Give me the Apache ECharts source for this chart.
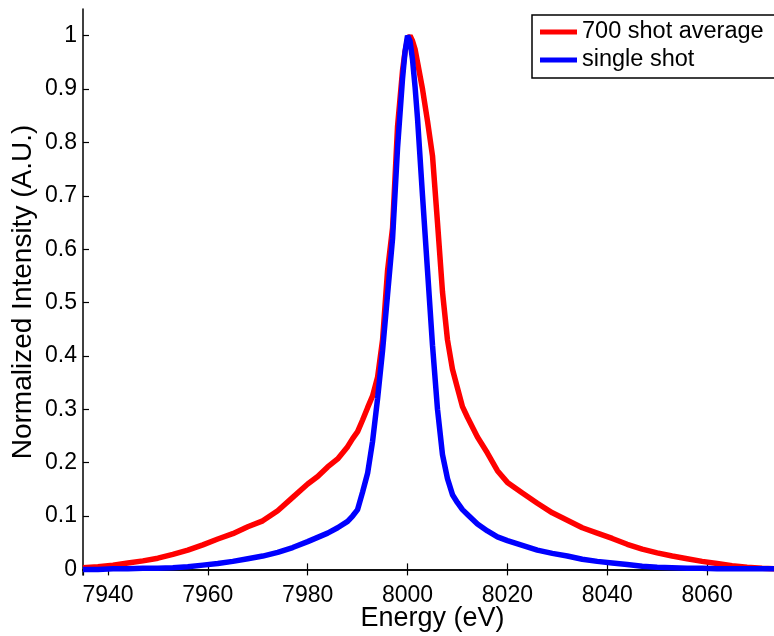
<!DOCTYPE html>
<html>
<head>
<meta charset="utf-8">
<script src="https://cdn.jsdelivr.net/npm/echarts@6/dist/echarts.min.js"></script>
<style>
html,body{margin:0;padding:0;background:#fff;}
#c{width:774px;height:636px;}
</style>
</head>
<body>
<div id="c"></div>
<script>
const energy = [7935,7938,7941,7944,7947,7950,7953,7956,7959,7962,7965,7968,7971,7974,7977,7980,7982,7984,7986,7988,7989,7990,7991,7992,7993,7994,7995,7996,7997,7998,7999,7999.5,8000,8000.5,8001,8001.5,8002,8003,8004,8005,8006,8007,8008,8009,8010,8011,8012,8014,8016,8018,8020,8023,8026,8029,8032,8035,8038,8041,8044,8047,8050,8053,8056,8059,8062,8065,8068,8071,8075];
const avg700 = [0.003,0.005,0.008,0.012,0.016,0.021,0.028,0.036,0.046,0.057,0.067,0.080,0.091,0.110,0.135,0.160,0.174,0.192,0.207,0.230,0.245,0.258,0.280,0.303,0.325,0.360,0.430,0.560,0.640,0.830,0.935,0.970,0.993,1.000,0.990,0.975,0.950,0.900,0.840,0.775,0.650,0.520,0.430,0.375,0.340,0.305,0.285,0.248,0.218,0.185,0.163,0.143,0.124,0.106,0.092,0.078,0.068,0.058,0.047,0.038,0.031,0.025,0.020,0.015,0.011,0.007,0.004,0.002,0.001];
const single = [0.000,0.000,0.001,0.001,0.002,0.002,0.003,0.005,0.008,0.011,0.015,0.020,0.025,0.032,0.041,0.052,0.060,0.068,0.078,0.090,0.100,0.112,0.145,0.180,0.240,0.320,0.410,0.515,0.620,0.790,0.920,0.970,1.000,0.990,0.955,0.905,0.845,0.700,0.560,0.420,0.300,0.215,0.170,0.140,0.125,0.112,0.103,0.085,0.072,0.061,0.054,0.045,0.036,0.030,0.025,0.019,0.015,0.012,0.009,0.006,0.004,0.003,0.002,0.002,0.001,0.001,0.001,0.001,0.001];
const seriesNames = ['700 shot average','single shot'];
const xTitle = 'Energy (eV)';
const yTitle = 'Normalized Intensity (A.U.)';

const font = 'Liberation Sans, Arial, Helvetica, sans-serif';
const chart = echarts.init(document.getElementById('c'), null, {renderer:'canvas'});
const axisLine = {show:true, lineStyle:{color:'#000', width:1.5}};
const tick = {show:true, inside:true, length:6, lineStyle:{color:'#000', width:1.2}};
chart.setOption({
  animation:false,
  backgroundColor:'#fff',
  grid:{left:83, top:9, right:-8, bottom:61, containLabel:false, outerBoundsMode:'none'},
  legend:{
    orient:'vertical', left:532, top:15,
    data:seriesNames,
    icon:'rect', itemWidth:37, itemHeight:5, itemGap:4,
    backgroundColor:'#fff', borderColor:'#000', borderWidth:1.5,
    padding:[5,30,6,8],
    textStyle:{fontFamily:font, fontSize:23.5, color:'#000', lineHeight:24}
  },
  xAxis:[{
    type:'value', min:7935, max:8075, minInterval:20, maxInterval:20, splitNumber:7,
    axisLine:axisLine, axisTick:tick, splitLine:{show:false},
    axisLabel:{fontFamily:font, fontSize:23, color:'#000', margin:9, showMinLabel:false, showMaxLabel:false,
      formatter:function(v){return String(v);}},
    name:xTitle, nameLocation:'middle', nameGap:30, nameMoveOverlap:false,
    nameTextStyle:{fontFamily:font, fontSize:27, color:'#000'}
  },{
    type:'value', position:'top', min:7935, max:8075, minInterval:20, maxInterval:20, splitNumber:7,
    axisLine:axisLine, axisTick:tick, splitLine:{show:false}, axisLabel:{show:false}
  }],
  yAxis:[{
    type:'value', min:-0.0105, max:1.05, minInterval:0.1, maxInterval:0.1, splitNumber:10,
    axisLine:axisLine, axisTick:tick, splitLine:{show:false},
    axisLabel:{fontFamily:font, fontSize:23, color:'#000', margin:6, showMinLabel:false, showMaxLabel:false,
      formatter:function(v){return String(Math.round(v*10)/10);}},
    name:yTitle, nameLocation:'middle', nameGap:46, nameMoveOverlap:false,
    nameTextStyle:{fontFamily:font, fontSize:28, color:'#000'}
  },{
    type:'value', position:'right', min:-0.0105, max:1.05, minInterval:0.1, maxInterval:0.1, splitNumber:10,
    axisLine:axisLine, axisTick:tick, splitLine:{show:false}, axisLabel:{show:false}
  }],
  series:[{
    name:seriesNames[0], type:'line', showSymbol:false, symbol:'none',
    data:energy.map((e,i)=>[e, avg700[i]]),
    lineStyle:{color:'#ff0000', width:5.5}, itemStyle:{color:'#ff0000'}
  },{
    name:seriesNames[1], type:'line', showSymbol:false, symbol:'none',
    data:energy.map((e,i)=>[e, single[i]]),
    lineStyle:{color:'#0000ff', width:5.5}, itemStyle:{color:'#0000ff'}
  }]
});
</script>
</body>
</html>
